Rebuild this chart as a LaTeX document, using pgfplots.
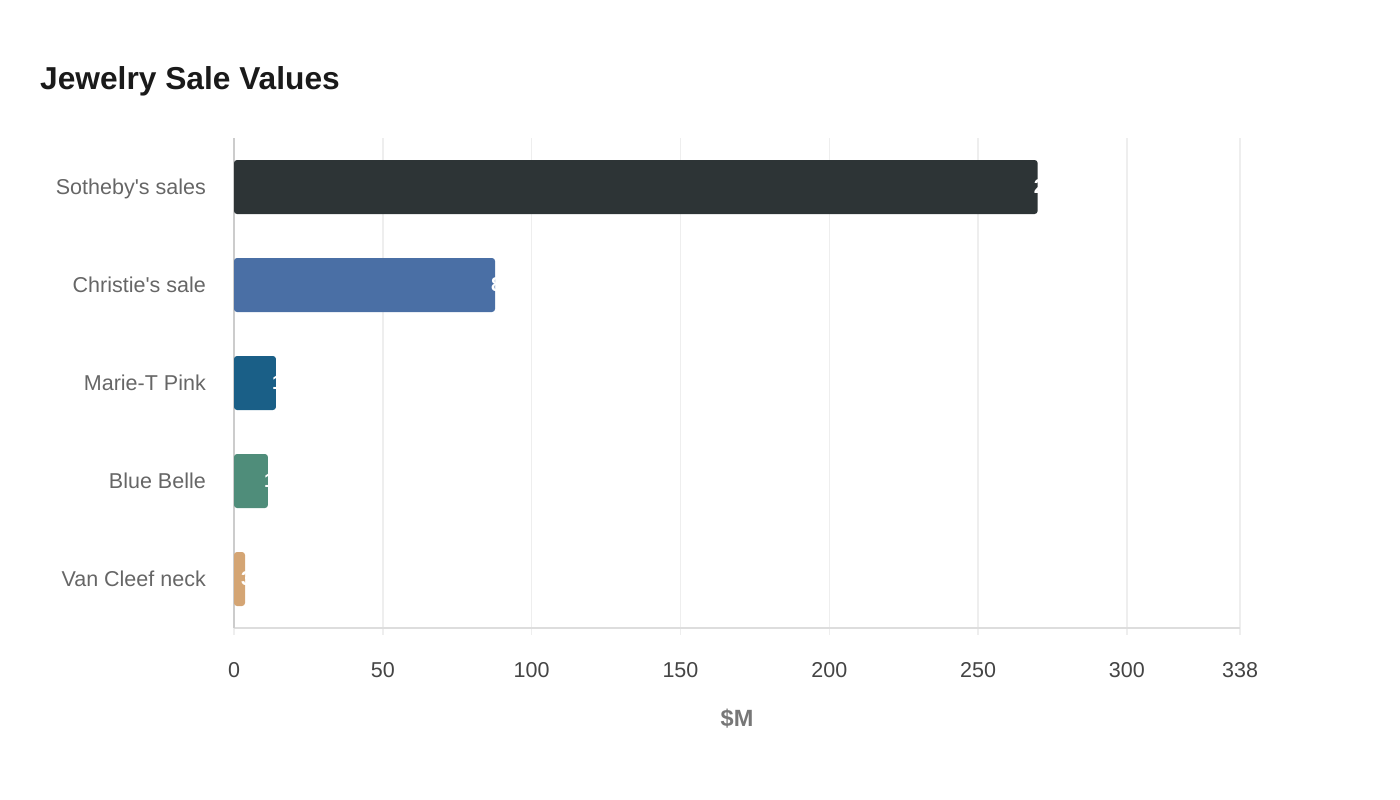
\documentclass[border=0pt]{standalone}
\usepackage{fontspec}
\setmainfont{Liberation Sans}
\usepackage{pgfplots}
\pgfplotsset{compat=1.18}
\definecolor{sothebys}{HTML}{2D3436}
\definecolor{christies}{HTML}{4A6FA5}
\definecolor{mariet}{HTML}{1A5F87}
\definecolor{bluebelle}{HTML}{4F8D7A}
\definecolor{vancleef}{HTML}{D4A574}
\definecolor{gridc}{HTML}{EEEEEE}
\definecolor{baseline}{HTML}{DDDDDD}
\definecolor{leftline}{HTML}{CCCCCC}
\definecolor{titlec}{HTML}{1A1A1A}
\definecolor{catc}{HTML}{666666}
\definecolor{tickc}{HTML}{444444}
\definecolor{labc}{HTML}{777777}

\pgfplotstableread{
x y label
270 0 270
}\sothebys
\pgfplotstableread{
x y label
87.7 1 87.7
}\christies
\pgfplotstableread{
x y label
14.1 2 14.1
}\mariet
\pgfplotstableread{
x y label
11.4 3 11.4
}\bluebelle
\pgfplotstableread{
x y label
3.7 4 3.7
}\vancleef

\begin{document}
\begin{tikzpicture}[x=1pt,y=1pt]
\path[use as bounding box] (0,0) rectangle (1400,800);
\node[anchor=base west, inner sep=0pt, text=titlec,
      font=\fontsize{31.7}{38}\selectfont\bfseries] at (40,710) {Jewelry Sale Values};
\begin{axis}[
    at={(234pt,172pt)}, anchor=south west,
    scale only axis, width=1006pt, height=490pt,
    xmin=0, xmax=338, ymin=-0.5, ymax=4.5, y dir=reverse,
    xbar, bar width=54pt, bar shift=0pt,
    axis x line*=bottom, axis y line*=left,
    x axis line style={-, draw=baseline, line width=1.2pt},
    y axis line style={-, draw=leftline, line width=1.2pt},
    xtick={0,50,100,150,200,250,300,338},
    ytick={0,1,2,3,4},
    yticklabels={Sotheby\textquotesingle s sales, Christie\textquotesingle s sale, Marie-T Pink, Blue Belle, Van Cleef neck},
    xmajorgrids, grid style={draw=gridc, line width=1.4pt},
    tick align=outside, major tick length=7pt,
    xtick style={draw=gridc, line width=1.4pt},
    ytick style={draw=none},
    /pgf/number format/assume math mode=true,
    xticklabel style={font=\fontsize{21.5}{26}\selectfont, text=tickc, anchor=base, inner sep=0pt,
        at={(axis description cs:0,0)}, yshift=-42pt},
    yticklabel style={font=\fontsize{21.5}{26}\selectfont, text=catc, anchor=base east, inner sep=0pt,
        xshift=-21pt, yshift=-7pt},
    every axis x label/.style={at={(axis description cs:0.5,0)}, anchor=base, yshift=-98pt,
        font=\fontsize{23.5}{28}\selectfont\bfseries, text=labc},
    xlabel={\$M},
    nodes near coords, point meta=explicit symbolic,
    every node near coord/.append style={text=white, anchor=west, xshift=-4pt, inner sep=0pt,
        font=\fontsize{20}{24}\selectfont\bfseries},
]
\addplot[fill=sothebys, draw=none, rounded corners=3pt] table[x=x, y=y, meta=label] {\sothebys};
\addplot[fill=christies, draw=none, rounded corners=3pt] table[x=x, y=y, meta=label] {\christies};
\addplot[fill=mariet, draw=none, rounded corners=3pt] table[x=x, y=y, meta=label] {\mariet};
\addplot[fill=bluebelle, draw=none, rounded corners=3pt] table[x=x, y=y, meta=label] {\bluebelle};
\addplot[fill=vancleef, draw=none, rounded corners=3pt] table[x=x, y=y, meta=label] {\vancleef};
\end{axis}
\end{tikzpicture}
\end{document}
